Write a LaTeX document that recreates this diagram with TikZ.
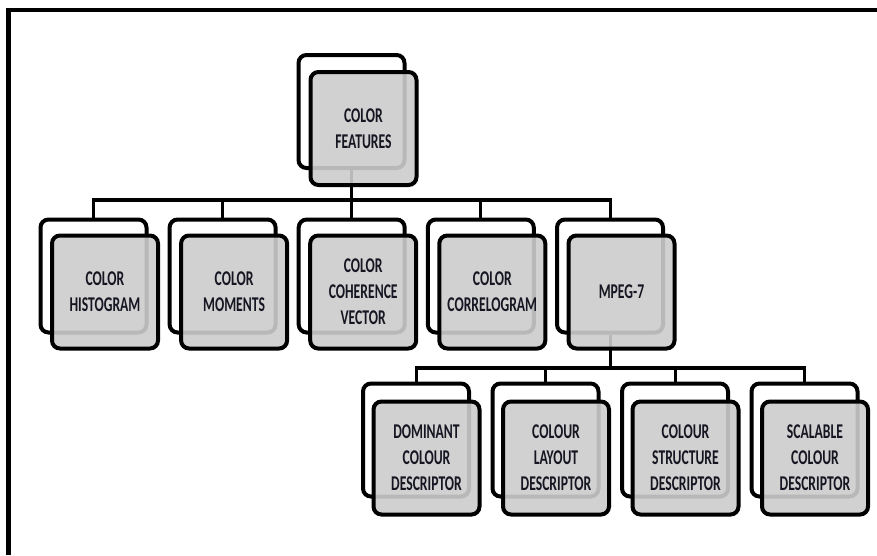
\documentclass[tikz,border=0pt]{standalone}
\usepackage{fontspec}
\setmainfont{Carlito}[FakeStretch=0.65]
\usetikzlibrary{calc}
\definecolor{boxfill}{RGB}{204,204,204}
\definecolor{txt}{RGB}{22,22,34}
\tikzset{
  backbox/.style={draw=black, line width=4pt, rounded corners=8pt, fill=white,
    minimum width=106pt, minimum height=113pt, inner sep=0pt},
  frontbox/.style={draw=black, line width=4pt, rounded corners=8pt, fill=boxfill,
    fill opacity=0.9, text opacity=1, draw opacity=1,
    minimum width=106pt, minimum height=113pt, inner sep=0pt,
    align=center, text=txt, font=\fontsize{21}{26}\selectfont\bfseries},
  bar/.style={line width=4.5pt, line cap=butt},
  drop/.style={line width=3pt},
  frame/.style={line width=4.5pt, line join=miter}
}
\begin{document}
\begin{tikzpicture}[x=1pt,y=-1pt]
\useasboundingbox (0,0) rectangle (877,555);
% outer frame
\coordinate (fA) at (8.5,555);
\coordinate (fB) at (8.5,10);
\coordinate (fC) at (877,10);
\draw[frame] (fA) -- (fB) -- (fC);

% back boxes
\node[backbox] (top) at (351.5,111.5) {};
\node[backbox] (b1) at (93.5,276) {};
\node[backbox] (b2) at (222.6,276) {};
\node[backbox] (b3) at (351.7,276) {};
\node[backbox] (b4) at (480.8,276) {};
\node[backbox] (b5) at (610,276) {};
\node[backbox] (c1) at (416,440) {};
\node[backbox] (c2) at (545.5,440) {};
\node[backbox] (c3) at (675,440) {};
\node[backbox] (c4) at (804.5,440) {};

% connectors level 1
\coordinate (j0) at (top.south |- 0,200);
\coordinate (jL) at (b1.north |- 0,200);
\coordinate (jR) at (b5.north |- 0,200);
\draw[drop] (top.south) -- (j0);
\draw[bar] ([xshift=-1.5pt]jL) -- ([xshift=1.5pt]jR);
\foreach \n in {b1,b2,b3,b4,b5}{
  \draw[drop] (\n.north |- 0,200) -- (\n.north);
}
% connectors level 2
\coordinate (k0) at (b5.south |- 0,368);
\coordinate (kL) at (c1.north |- 0,368);
\coordinate (kR) at (c4.north |- 0,368);
\draw[drop] (b5.south) -- (k0);
\draw[bar] ([xshift=-1.5pt]kL) -- ([xshift=1.5pt]kR);
\foreach \n in {c1,c2,c3,c4}{
  \draw[drop] (\n.north |- 0,368) -- (\n.north);
}

% front boxes
\node[frontbox] (topF) at ([shift={(12,17)}]top.center) {COLOR\\FEATURES};
\node[frontbox] (b1F) at ([shift={(11.5,16)}]b1.center) {COLOR\\HISTOGRAM};
\node[frontbox] (b2F) at ([shift={(11.5,16)}]b2.center) {COLOR\\MOMENTS};
\node[frontbox] (b3F) at ([shift={(11.5,16)}]b3.center) {COLOR\\COHERENCE\\VECTOR};
\node[frontbox] (b4F) at ([shift={(11.5,16)}]b4.center) {COLOR\\CORRELOGRAM};
\node[frontbox] (b5F) at ([shift={(11.5,16)}]b5.center) {MPEG-7};
\node[frontbox] (c1F) at ([shift={(10.5,18)}]c1.center) {DOMINANT\\COLOUR\\DESCRIPTOR};
\node[frontbox] (c2F) at ([shift={(10.5,18)}]c2.center) {COLOUR\\LAYOUT\\DESCRIPTOR};
\node[frontbox] (c3F) at ([shift={(10.5,18)}]c3.center) {COLOUR\\STRUCTURE\\DESCRIPTOR};
\node[frontbox] (c4F) at ([shift={(10.5,18)}]c4.center) {SCALABLE\\COLOUR\\DESCRIPTOR};
\end{tikzpicture}
\end{document}
